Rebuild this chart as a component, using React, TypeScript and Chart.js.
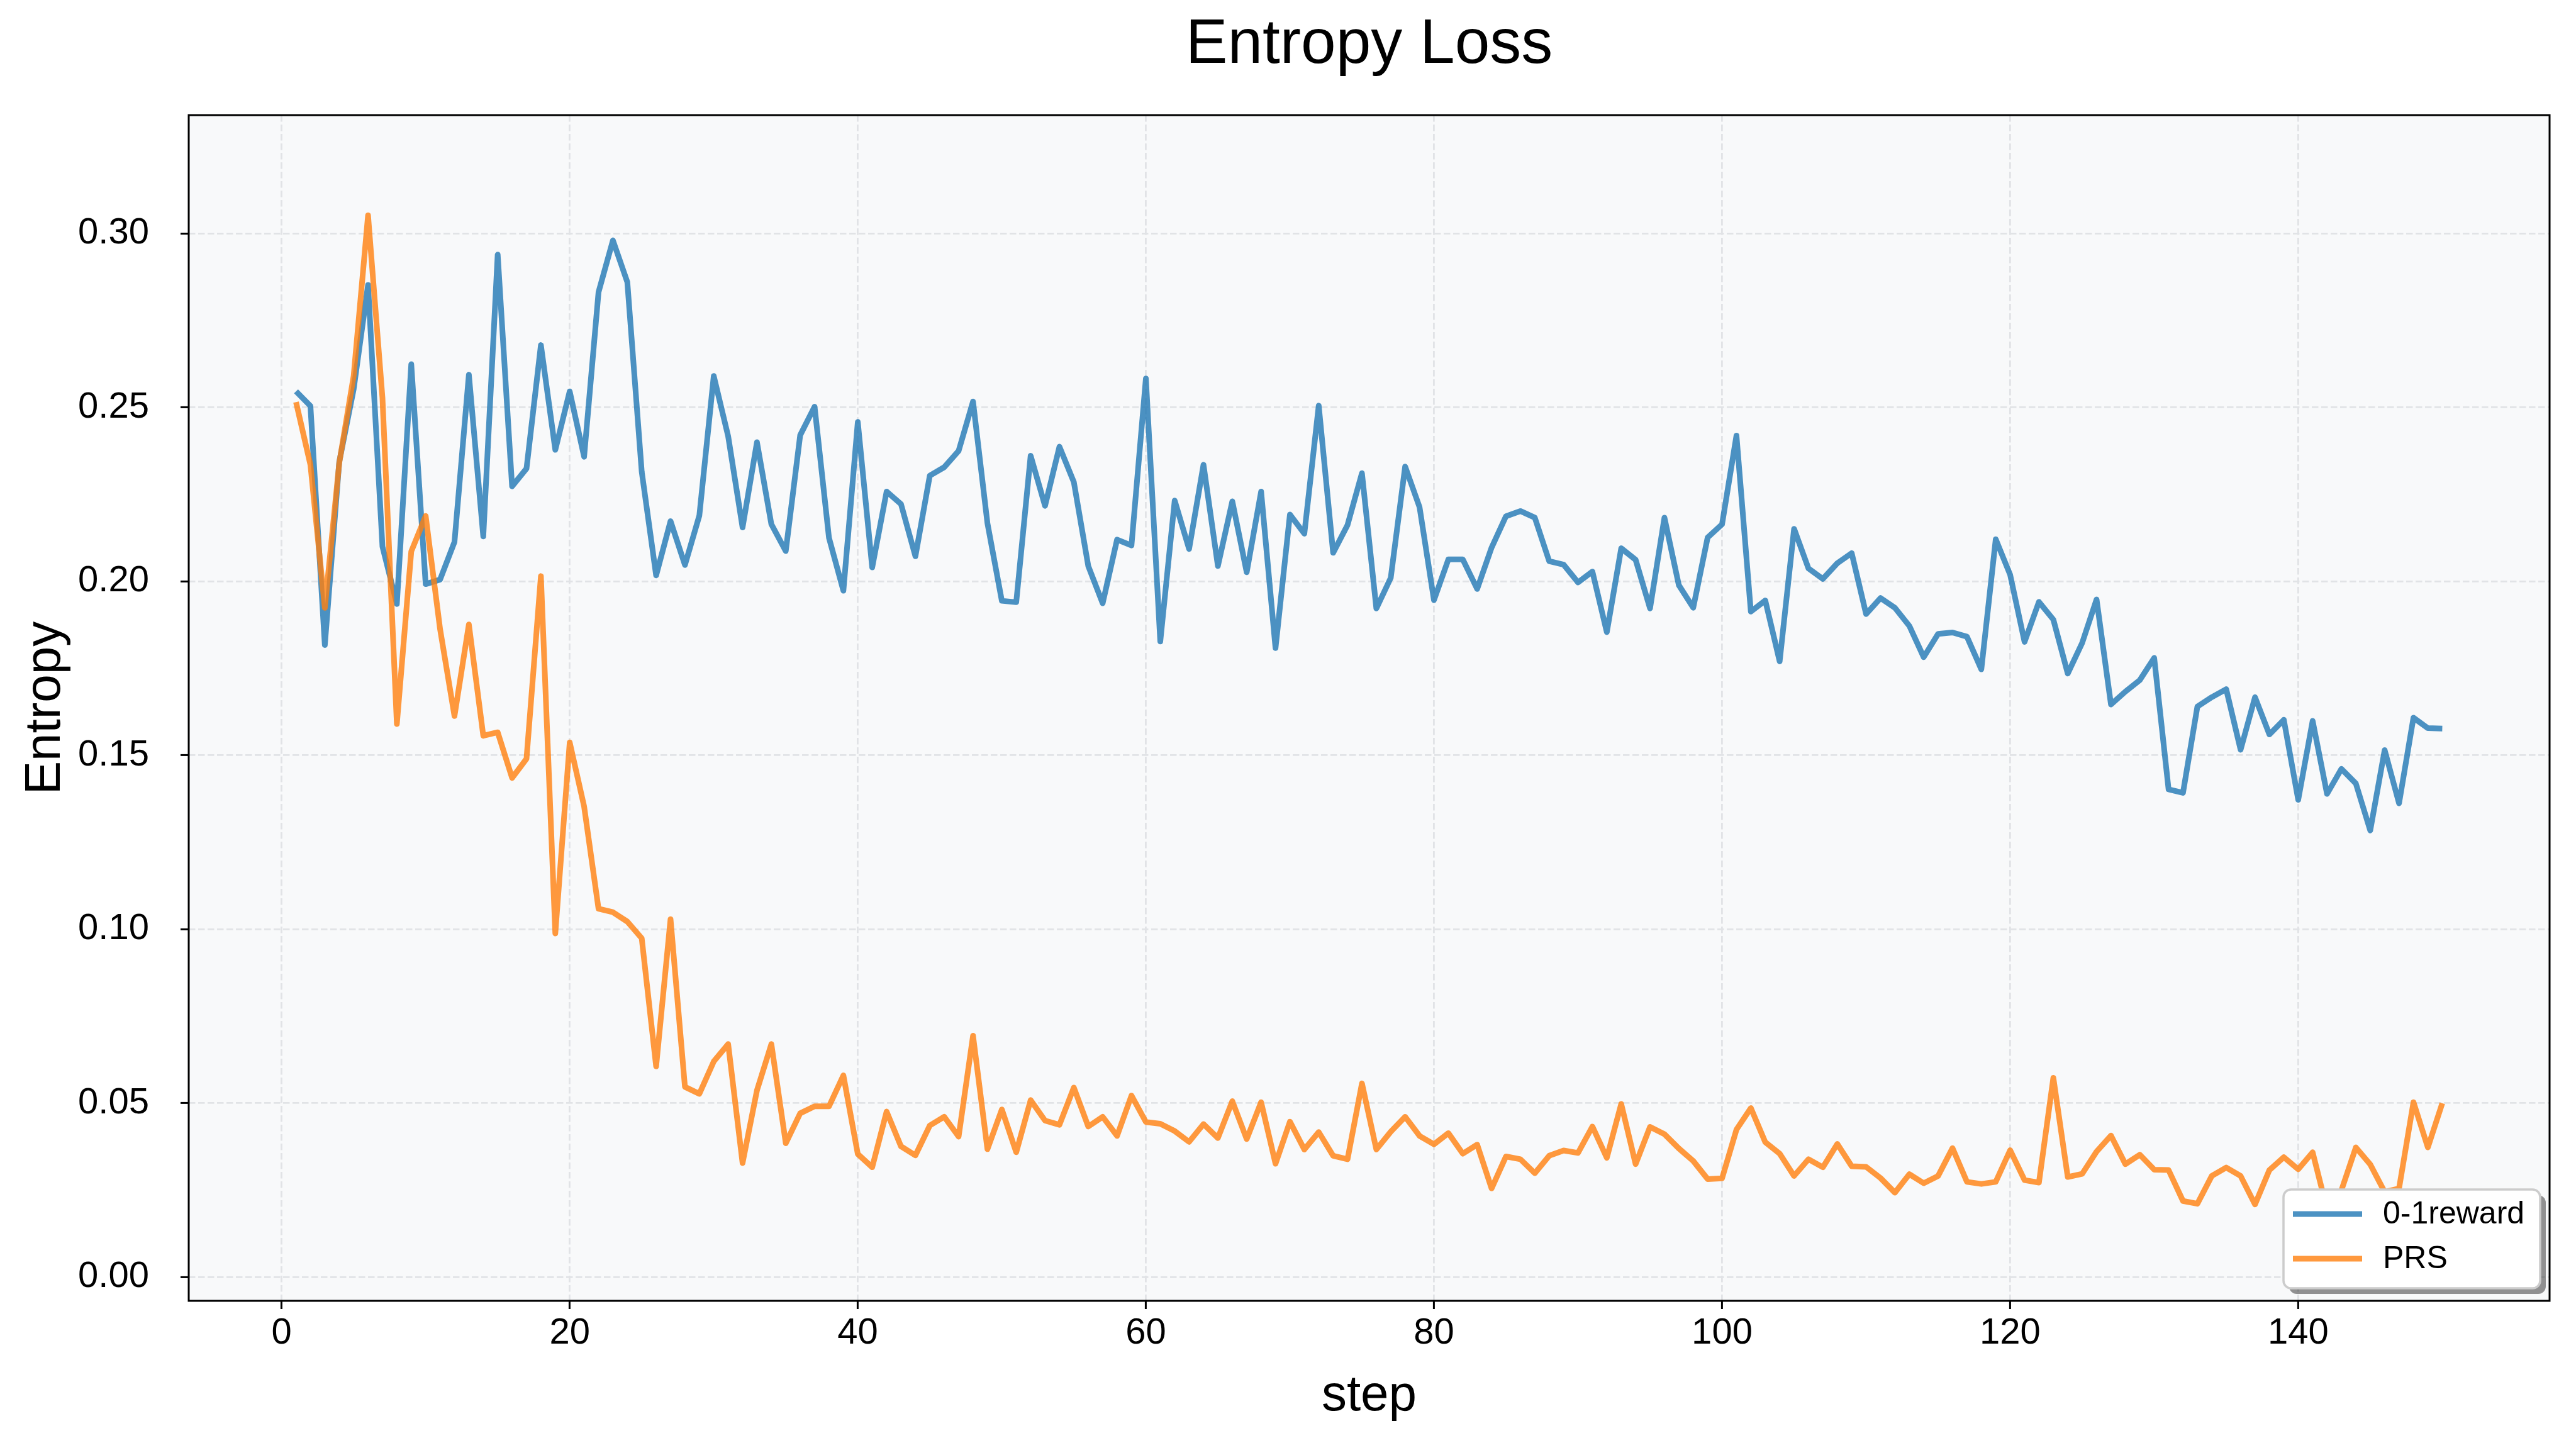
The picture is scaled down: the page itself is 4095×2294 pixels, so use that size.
import React, { useEffect, useRef } from 'react';
import { Chart, registerables } from 'chart.js';

Chart.register(...registerables);

const steps = [
  1, 2, 3, 4, 5, 6, 7, 8, 9, 10, 11, 12, 13, 14, 15, 16, 17, 18, 19, 20,
  21, 22, 23, 24, 25, 26, 27, 28, 29, 30, 31, 32, 33, 34, 35, 36, 37, 38, 39, 40,
  41, 42, 43, 44, 45, 46, 47, 48, 49, 50, 51, 52, 53, 54, 55, 56, 57, 58, 59, 60,
  61, 62, 63, 64, 65, 66, 67, 68, 69, 70, 71, 72, 73, 74, 75, 76, 77, 78, 79, 80,
  81, 82, 83, 84, 85, 86, 87, 88, 89, 90, 91, 92, 93, 94, 95, 96, 97, 98, 99, 100,
  101, 102, 103, 104, 105, 106, 107, 108, 109, 110, 111, 112, 113, 114, 115, 116, 117, 118, 119, 120,
  121, 122, 123, 124, 125, 126, 127, 128, 129, 130, 131, 132, 133, 134, 135, 136, 137, 138, 139, 140,
  141, 142, 143, 144, 145, 146, 147, 148, 149, 150,
];

const reward01 = [
  0.2546, 0.2504, 0.1817, 0.2343, 0.2552, 0.2852, 0.2100, 0.1935, 0.2624, 0.1992,
  0.2005, 0.2113, 0.2594, 0.2129, 0.2939, 0.2273, 0.2324, 0.2679, 0.2378, 0.2546,
  0.2358, 0.2831, 0.2980, 0.2860, 0.2315, 0.2017, 0.2173, 0.2047, 0.2189, 0.2590,
  0.2417, 0.2155, 0.2400, 0.2164, 0.2087, 0.2420, 0.2502, 0.2125, 0.1973, 0.2458,
  0.2040, 0.2258, 0.2222, 0.2072, 0.2304, 0.2328, 0.2375, 0.2517, 0.2167, 0.1944,
  0.1940, 0.2361, 0.2217, 0.2387, 0.2285, 0.2044, 0.1937, 0.2120, 0.2103, 0.2583,
  0.1827, 0.2232, 0.2093, 0.2335, 0.2044, 0.2230, 0.2026, 0.2258, 0.1808, 0.2192,
  0.2137, 0.2505, 0.2082, 0.2162, 0.2311, 0.1922, 0.2010, 0.2330, 0.2213, 0.1946,
  0.2063, 0.2063, 0.1978, 0.2097, 0.2187, 0.2202, 0.2183, 0.2058, 0.2048, 0.1997,
  0.2028, 0.1854, 0.2095, 0.2062, 0.1922, 0.2183, 0.1989, 0.1924, 0.2126, 0.2164,
  0.2419, 0.1913, 0.1945, 0.1770, 0.2151, 0.2037, 0.2007, 0.2052, 0.2081, 0.1906,
  0.1952, 0.1924, 0.1872, 0.1782, 0.1849, 0.1853, 0.1841, 0.1747, 0.2121, 0.2019,
  0.1826, 0.1941, 0.1890, 0.1735, 0.1823, 0.1948, 0.1646, 0.1683, 0.1716, 0.1780,
  0.1402, 0.1392, 0.1640, 0.1667, 0.1690, 0.1516, 0.1667, 0.1560, 0.1602, 0.1372,
  0.1599, 0.1389, 0.1461, 0.1419, 0.1284, 0.1515, 0.1362, 0.1608, 0.1578, 0.1577,
];

const prs = [
  0.2515, 0.2335, 0.1924, 0.2340, 0.2590, 0.3052, 0.2527, 0.1590, 0.2086, 0.2188,
  0.1863, 0.1613, 0.1876, 0.1556, 0.1566, 0.1435, 0.1490, 0.2015, 0.0988, 0.1537,
  0.1353, 0.1059, 0.1049, 0.1022, 0.0974, 0.0606, 0.1029, 0.0547, 0.0527, 0.0620,
  0.0670, 0.0328, 0.0537, 0.0670, 0.0385, 0.0471, 0.0491, 0.0491, 0.0580, 0.0354,
  0.0316, 0.0476, 0.0376, 0.0350, 0.0436, 0.0461, 0.0404, 0.0694, 0.0368, 0.0482,
  0.0359, 0.0509, 0.0450, 0.0438, 0.0545, 0.0433, 0.0461, 0.0406, 0.0522, 0.0446,
  0.0441, 0.0420, 0.0389, 0.0440, 0.0400, 0.0506, 0.0397, 0.0503, 0.0326, 0.0447,
  0.0367, 0.0417, 0.0349, 0.0339, 0.0557, 0.0367, 0.0418, 0.0461, 0.0406, 0.0382,
  0.0414, 0.0355, 0.0381, 0.0255, 0.0347, 0.0339, 0.0299, 0.0349, 0.0364, 0.0357,
  0.0433, 0.0343, 0.0498, 0.0325, 0.0432, 0.0411, 0.0370, 0.0334, 0.0282, 0.0284,
  0.0424, 0.0486, 0.0388, 0.0355, 0.0291, 0.0339, 0.0316, 0.0383, 0.0319, 0.0317,
  0.0285, 0.0243, 0.0296, 0.0270, 0.0291, 0.0371, 0.0274, 0.0268, 0.0274, 0.0365,
  0.0279, 0.0272, 0.0573, 0.0288, 0.0297, 0.0361, 0.0407, 0.0325, 0.0352, 0.0309,
  0.0308, 0.0219, 0.0211, 0.0291, 0.0315, 0.0291, 0.0209, 0.0308, 0.0345, 0.0310,
  0.0359, 0.0195, 0.0250, 0.0373, 0.0324, 0.0245, 0.0255, 0.0503, 0.0373, 0.0500,
];

const seriesLabels = ['0-1reward', 'PRS'];
const seriesColors = ['rgba(31,119,180,0.8)', 'rgba(255,127,14,0.8)'];
const xTicks = [0, 20, 40, 60, 80, 100, 120, 140];
const yTicks = [0, 0.05, 0.1, 0.15, 0.2, 0.25, 0.3];
const titleText = 'Entropy Loss';
const xLabel = 'step';
const yLabel = 'Entropy';

const FONT = "'Liberation Sans', Arial, Helvetica, sans-serif";
const W = 4095;
const H = 2294;
const GRID = '#e1e3e6';

function roundRectPath(ctx: CanvasRenderingContext2D, x: number, y: number, w: number, h: number, r: number) {
  ctx.beginPath();
  ctx.moveTo(x + r, y);
  ctx.lineTo(x + w - r, y);
  ctx.arcTo(x + w, y, x + w, y + r, r);
  ctx.lineTo(x + w, y + h - r);
  ctx.arcTo(x + w, y + h, x + w - r, y + h, r);
  ctx.lineTo(x + r, y + h);
  ctx.arcTo(x, y + h, x, y + h - r, r);
  ctx.lineTo(x, y + r);
  ctx.arcTo(x, y, x + r, y, r);
  ctx.closePath();
}

const decorPlugin = {
  id: 'decorPlugin',
  beforeDraw(chart: any) {
    const { ctx, chartArea } = chart;
    ctx.save();
    ctx.fillStyle = '#ffffff';
    ctx.fillRect(0, 0, chart.width, chart.height);
    ctx.fillStyle = '#f8f9fa';
    ctx.fillRect(chartArea.left, chartArea.top, chartArea.right - chartArea.left, chartArea.bottom - chartArea.top);
    ctx.restore();
  },
  afterDraw(chart: any) {
    const { ctx, chartArea } = chart;
    ctx.save();
    // frame
    ctx.strokeStyle = '#000000';
    ctx.lineWidth = 3;
    ctx.strokeRect(chartArea.left, chartArea.top, chartArea.right - chartArea.left, chartArea.bottom - chartArea.top);

    // title centred over the plot area
    ctx.fillStyle = '#000000';
    ctx.font = `100px ${FONT}`;
    ctx.textAlign = 'center';
    ctx.textBaseline = 'middle';
    ctx.fillText(titleText, (chartArea.left + chartArea.right) / 2, 72);

    // legend
    const bw = 408;
    const bh = 157;
    const lx = chartArea.right - 15 - bw;
    const ly = chartArea.bottom - 20 - bh;
    const r = 12;
    ctx.fillStyle = 'rgba(0,0,0,0.42)';
    roundRectPath(ctx, lx + 9, ly + 9, bw, bh, r);
    ctx.fill();
    ctx.fillStyle = '#ffffff';
    roundRectPath(ctx, lx, ly, bw, bh, r);
    ctx.fill();
    ctx.strokeStyle = '#cccccc';
    ctx.lineWidth = 3.5;
    ctx.stroke();

    const rows = [ly + 39, ly + 110];
    chart.data.datasets.forEach((ds: any, i: number) => {
      const yy = rows[i];
      ctx.strokeStyle = ds.borderColor;
      ctx.lineWidth = 9;
      ctx.lineCap = 'butt';
      ctx.beginPath();
      ctx.moveTo(lx + 15, yy);
      ctx.lineTo(lx + 125, yy);
      ctx.stroke();
      ctx.fillStyle = '#000000';
      ctx.font = `50px ${FONT}`;
      ctx.textAlign = 'left';
      ctx.textBaseline = 'middle';
      ctx.fillText(ds.label, lx + 158, yy + 1);
    });
    ctx.restore();
  },
};

export default function App() {
  const canvasRef = useRef<HTMLCanvasElement | null>(null);

  useEffect(() => {
    document.body.style.margin = '0';
    const canvas = canvasRef.current;
    if (!canvas) return;

    const datasets = [reward01, prs].map((vals, i) => ({
      label: seriesLabels[i],
      data: steps.map((s, j) => ({ x: s, y: vals[j] })),
      borderColor: seriesColors[i],
      backgroundColor: seriesColors[i],
      borderWidth: 9,
      pointRadius: 0,
      pointHoverRadius: 0,
      tension: 0,
      fill: false,
      borderJoinStyle: 'round' as const,
      borderCapStyle: 'butt' as const,
      order: 2 - i,
    }));

    const chart = new Chart(canvas, {
      type: 'line',
      data: { datasets },
      options: {
        animation: false,
        responsive: true,
        maintainAspectRatio: false,
        devicePixelRatio: 1,
        layout: { padding: { left: 0, right: 42, top: 183, bottom: 0 } },
        plugins: {
          legend: { display: false },
          tooltip: { enabled: false },
          title: { display: false },
        },
        scales: {
          x: {
            type: 'linear',
            min: -6.45,
            max: 157.45,
            afterFit: (s: any) => {
              s.height = 226;
            },
            afterBuildTicks: (axis: any) => {
              axis.ticks = xTicks.map((v) => ({ value: v }));
            },
            ticks: {
              color: '#000000',
              font: { family: FONT, size: 58 },
              padding: 4,
              maxRotation: 0,
              autoSkip: false,
              callback: (v: any) => String(v),
            },
            grid: {
              color: GRID,
              lineWidth: 2.8,
              drawTicks: true,
              tickLength: 13,
              tickColor: '#000000',
              tickWidth: 3,
            },
            border: { display: false, dash: [10.5, 4.5] },
            title: {
              display: true,
              text: xLabel,
              color: '#000000',
              font: { family: FONT, size: 80 },
              padding: { top: 0, bottom: 26 },
            },
          },
          y: {
            type: 'linear',
            min: -0.0068,
            max: 0.334,
            afterFit: (s: any) => {
              s.width = 300;
            },
            afterBuildTicks: (axis: any) => {
              axis.ticks = yTicks.map((v) => ({ value: v }));
            },
            ticks: {
              color: '#000000',
              font: { family: FONT, size: 58 },
              padding: 50,
              autoSkip: false,
              callback: (v: any) => Number(v).toFixed(2),
            },
            grid: {
              color: GRID,
              lineWidth: 2.8,
              drawTicks: true,
              tickLength: 13,
              tickColor: '#000000',
              tickWidth: 3,
            },
            border: { display: false, dash: [10.5, 4.5] },
            title: {
              display: true,
              text: yLabel,
              color: '#000000',
              font: { family: FONT, size: 80 },
              padding: { top: 25, bottom: 0 },
            },
          },
        },
      },
      plugins: [decorPlugin],
    });

    return () => {
      chart.destroy();
    };
  }, []);

  return (
    <div style={{ position: 'absolute', left: 0, top: 0, width: `${W}px`, height: `${H}px` }}>
      <canvas ref={canvasRef} />
    </div>
  );
}
